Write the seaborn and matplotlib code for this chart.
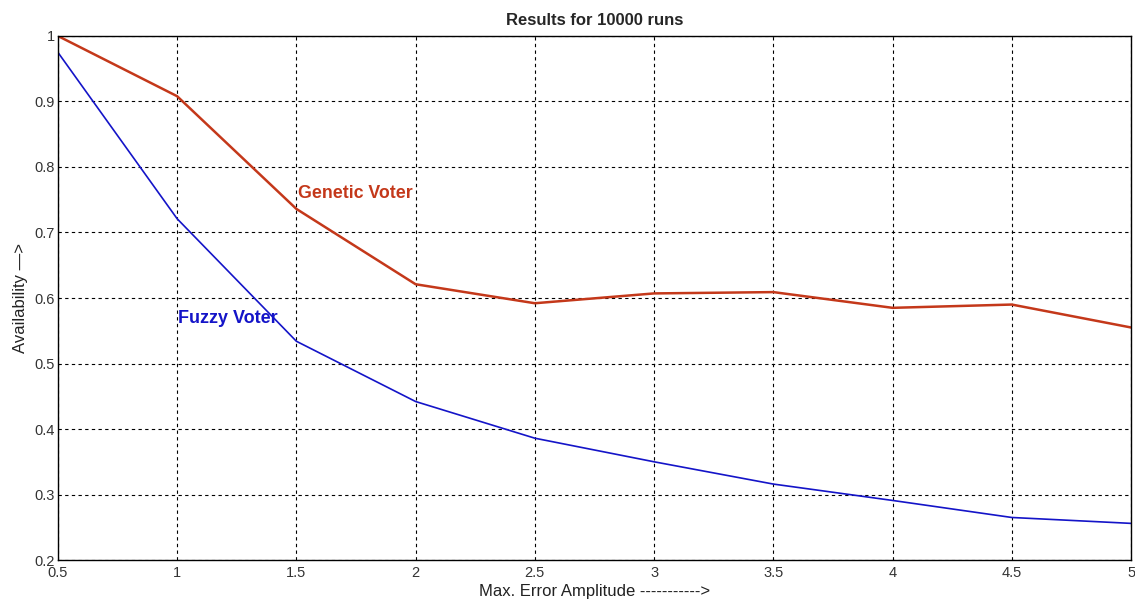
import numpy as np
import pandas as pd
import matplotlib
matplotlib.use("Agg")
import matplotlib.pyplot as plt
import seaborn as sns

# values
error_amplitude = [0.5, 1.0, 1.5, 2.0, 2.5, 3.0, 3.5, 4.0, 4.5, 5.0]
genetic_voter = [1.0, 0.908, 0.736, 0.621, 0.592, 0.607, 0.609, 0.585, 0.590, 0.555]
fuzzy_voter = [0.975, 0.721, 0.534, 0.442, 0.386, 0.350, 0.316, 0.291, 0.265, 0.256]
x_ticks = [0.5, 1, 1.5, 2, 2.5, 3, 3.5, 4, 4.5, 5]
x_tick_labels = ["0.5", "1", "1.5", "2", "2.5", "3", "3.5", "4", "4.5", "5"]
y_ticks = [0.2, 0.3, 0.4, 0.5, 0.6, 0.7, 0.8, 0.9, 1.0]
y_tick_labels = ["0.2", "0.3", "0.4", "0.5", "0.6", "0.7", "0.8", "0.9", "1"]

red = "#c4381a"
blue = "#1414c8"

sns.set_style("white")
plt.rcParams["font.family"] = ["Liberation Sans", "DejaVu Sans"]

df = pd.DataFrame({"amp": error_amplitude, "genetic": genetic_voter, "fuzzy": fuzzy_voter})

fig = plt.figure(figsize=(11.35, 5.99), dpi=100)
ax = fig.add_axes([0.051, 0.065, 0.9455, 0.875])

sns.lineplot(data=df, x="amp", y="genetic", color=red, linewidth=1.8, ax=ax)
sns.lineplot(data=df, x="amp", y="fuzzy", color=blue, linewidth=1.2, ax=ax)

ax.set_xlim(0.5, 5)
ax.set_ylim(0.2, 1.0)
ax.set_xticks(x_ticks)
ax.set_xticklabels(x_tick_labels)
ax.set_yticks(y_ticks)
ax.set_yticklabels(y_tick_labels)
ax.tick_params(direction="in", length=4, labelsize=10.5, colors="#333333", pad=2)
ax.tick_params(axis="x", pad=4)

ax.grid(True, color="black", linestyle=(0, (3, 3)), linewidth=0.8)
for s in ax.spines.values():
    s.set_color("black")
    s.set_linewidth(1.0)

ax.set_title("Results for 10000 runs", fontsize=12, fontweight="bold", pad=8)
ax.set_xlabel("Max. Error Amplitude ----------->", fontsize=12, color="#222222", labelpad=3)
ax.set_ylabel("Availability \u2014>", fontsize=12, color="#222222", labelpad=5)

ax.text(1.507, 0.759, "Genetic Voter", color=red, fontsize=12.8, fontweight="bold", va="center", ha="left")
ax.text(1.003, 0.569, "Fuzzy Voter", color=blue, fontsize=13, fontweight="bold", va="center", ha="left")

fig.savefig("out.png", dpi=100)
